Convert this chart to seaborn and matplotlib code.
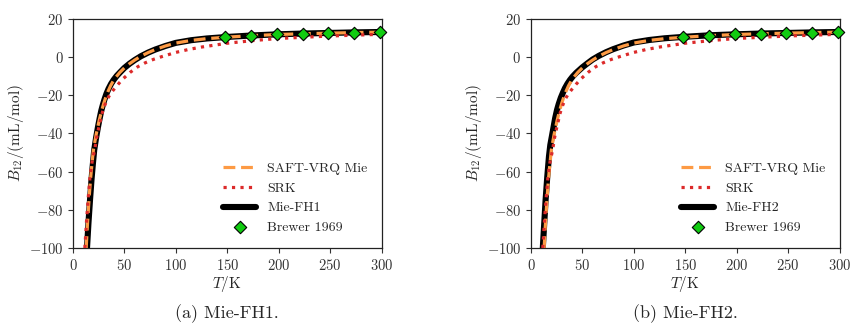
import matplotlib
matplotlib.use("Agg")
from matplotlib import pyplot as plt
import seaborn as sns
import pandas as pd

sns.set_theme(style="ticks")
plt.rcParams['font.family'] = ['serif']
plt.rcParams['font.serif'] = ['cmr10', 'DejaVu Serif']
plt.rcParams['mathtext.fontset'] = 'cm'
plt.rcParams['axes.formatter.use_mathtext'] = True
plt.rcParams['axes.unicode_minus'] = True

# SAFT-VRQ Mie (same in both panels)
saft_T = [12.8, 14.0, 15.5, 17.0, 18.5, 19.8, 21.0, 22.5, 24.0, 25.5, 27.0, 28.5,
          30.0, 32.0, 34.0, 36.5, 39.0, 42.0, 45.5, 50.0, 55.0, 60.0, 66.0,
          73.0, 80.0, 90.0, 100.0, 115.0, 130.0, 150.0, 175.0, 200.0, 225.0,
          250.0, 275.0, 300.0]
saft_B = [-100.0, -88.0, -75.0, -64.0, -55.5, -48.7, -45.0, -40.5, -36.8, -33.0,
          -29.8, -26.8, -24.0, -20.8, -18.0, -15.0, -12.6, -10.3, -8.0, -5.6,
          -3.4, -1.5, 0.5, 2.4, 4.0, 5.9, 7.4, 8.8, 9.7, 10.5, 11.3, 11.9, 12.3,
          12.6, 12.9, 13.1]

# SRK (same in both panels)
srk_T = [11.5, 13.0, 14.6, 16.5, 18.5, 21.0, 23.0, 25.2, 28.5, 31.0, 33.3, 36.0,
         38.8, 43.7, 48.5, 55.7, 63.0, 70.0, 78.0, 87.0, 100.0, 112.0, 125.0,
         150.0, 175.0, 200.0, 250.0, 300.0]
srk_B = [-100.0, -87.0, -75.0, -63.0, -55.0, -48.7, -42.0, -36.5, -29.0, -25.0,
         -22.0, -19.5, -17.5, -14.3, -11.4, -7.9, -5.0, -3.0, -1.2, 0.4, 2.5,
         4.0, 5.3, 7.3, 8.7, 9.8, 11.1, 12.0]

# Mie-FH1
fh1_T = [13.6, 15.0, 16.5, 18.0, 19.3, 20.6, 22.5, 24.3, 26.0, 27.5, 29.0, 30.5,
         32.4, 34.5, 37.0, 39.5, 42.5, 46.0, 50.0, 55.0, 60.0, 66.0, 73.0, 80.0,
         90.0, 100.0, 115.0, 130.0, 150.0, 175.0, 200.0, 225.0, 250.0, 275.0,
         300.0]
fh1_B = [-100.0, -87.0, -75.0, -64.0, -56.0, -48.7, -42.0, -36.5, -31.8, -28.0,
         -25.0, -22.3, -19.3, -16.6, -14.0, -11.9, -9.8, -7.8, -5.6, -3.4, -1.5,
         0.5, 2.4, 4.0, 5.9, 7.5, 8.9, 9.8, 10.6, 11.4, 12.0, 12.4, 12.7, 13.0,
         13.2]

# Mie-FH2
fh2_T = [11.5, 12.8, 14.2, 15.8, 17.5, 18.8, 20.5, 22.0, 23.5, 25.3, 27.0, 29.0,
         31.0, 33.0, 35.5, 38.0, 40.5, 44.0, 50.0, 55.0, 60.0, 66.0, 73.0, 80.0,
         90.0, 100.0, 115.0, 130.0, 150.0, 175.0, 200.0, 225.0, 250.0, 275.0,
         300.0]
fh2_B = [-100.0, -88.0, -75.0, -63.0, -52.0, -46.0, -41.0, -36.5, -32.0, -27.7,
         -24.5, -21.3, -18.7, -16.3, -13.9, -11.9, -10.2, -8.2, -5.3, -3.2, -1.2,
         0.7, 2.6, 4.2, 6.1, 7.7, 9.0, 9.9, 10.7, 11.5, 12.0, 12.4, 12.7, 13.0,
         13.2]

# Brewer 1969 measurements
exp_T = [148.15, 173.15, 198.15, 223.15, 248.15, 273.15, 298.15]
exp_B = [10.7, 11.3, 12.0, 12.4, 12.7, 12.8, 13.0]

fh_sets = [("Mie-FH1", fh1_T, fh1_B, "(a) Mie-FH1."),
           ("Mie-FH2", fh2_T, fh2_B, "(b) Mie-FH2.")]

fig = plt.figure(figsize=(8.52, 3.27), dpi=100)
lefts = [0.0857, 0.6232]

for left, (name, fh_T, fh_B, caption) in zip(lefts, fh_sets):
    ax = fig.add_axes([left, 0.2416, 0.3622, 0.7003])
    sns.lineplot(x=fh_T, y=fh_B, ax=ax, color='black', lw=4.4, label=name,
                 zorder=2, sort=False)
    sns.lineplot(x=saft_T, y=saft_B, ax=ax, color='#fd9a44', lw=2.3,
                 linestyle=(0, (3.7, 1.8)), label='SAFT-VRQ Mie', zorder=3, sort=False)
    sns.lineplot(x=srk_T, y=srk_B, ax=ax, color='#dc2a2a', lw=2.3,
                 linestyle=(0, (1, 1.65)), label='SRK', zorder=4, sort=False)
    sns.scatterplot(x=exp_T, y=exp_B, ax=ax, marker='D', s=40, color='#11cc11',
                    edgecolor='black', linewidth=0.8, label='Brewer 1969',
                    zorder=5, clip_on=False)
    ax.set_xlim(0, 300)
    ax.set_ylim(-100, 20)
    ax.set_xticks(range(0, 301, 50))
    ax.set_yticks(range(-100, 21, 20))
    ax.tick_params(labelsize=10.5, length=3.5, width=0.8, colors='#333333')
    for sp in ax.spines.values():
        sp.set_linewidth(0.9)
        sp.set_color('#222222')
    ax.set_xlabel(r'$T/\mathrm{K}$', fontsize=11, labelpad=1)
    ax.set_ylabel(r'$B_{12}/\mathrm{(mL/mol)}$', fontsize=11, labelpad=2)
    handles, labels = ax.get_legend_handles_labels()
    order = [labels.index(l) for l in ['SAFT-VRQ Mie', 'SRK', name, 'Brewer 1969']]
    ax.legend([handles[i] for i in order], [labels[i] for i in order],
              loc='lower right', frameon=False, fontsize=10,
              handlelength=2.4, borderaxespad=0.6, labelspacing=0.5)
    bbox = ax.get_position()
    fig.text(bbox.x0 + bbox.width / 2, 0.012, caption, ha='center',
             va='bottom', fontsize=13)

fig.savefig('out.png', dpi=100)
